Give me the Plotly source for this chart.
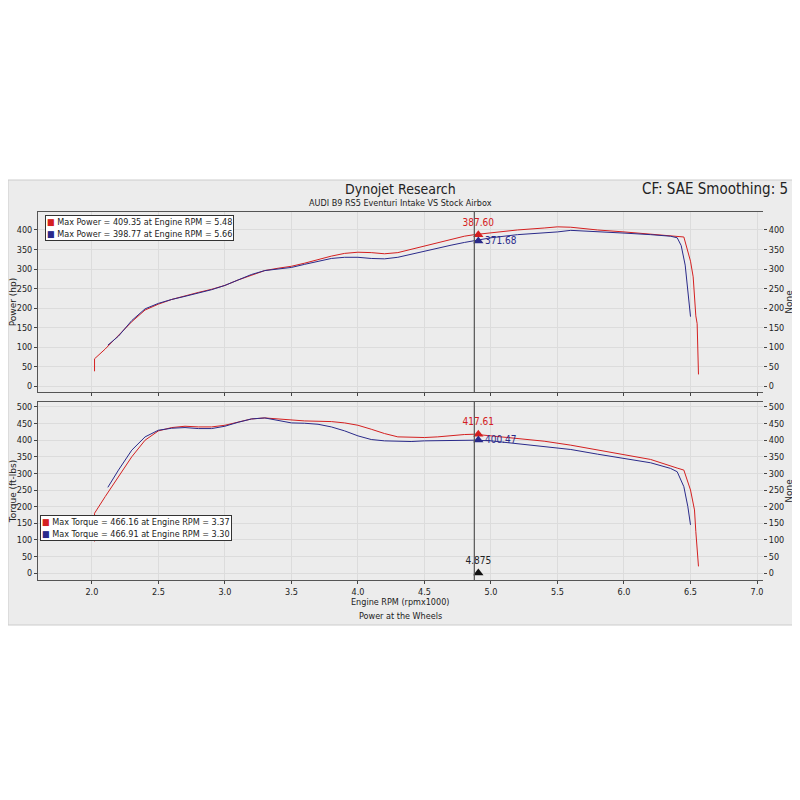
import plotly.graph_objects as go

rpm_pr = [2.02,2.02,2.1,2.2,2.3,2.4,2.5,2.6,2.7,2.8,2.9,3.0,3.1,3.2,3.3,3.4,3.5,3.6,3.7,3.8,3.9,4.0,4.1,4.2,4.3,4.4,4.5,4.6,4.7,4.8,4.875,5.0,5.2,5.4,5.5,5.6,5.8,6.0,6.2,6.4,6.45,6.5,6.52,6.54,6.55,6.56]
pow_r = [38,70,95,130,165,195,210,222,232,240,248,258,272,285,296,302,307,315,324,333,340,343,342,339,342,350,358,366,375,384,388,393,400,405,408,407,400,395,390,385,382,320,280,180,160,30]
rpm_pb = [2.12,2.2,2.3,2.4,2.5,2.6,2.7,2.8,2.9,3.0,3.1,3.2,3.3,3.4,3.5,3.6,3.7,3.8,3.9,4.0,4.1,4.2,4.3,4.4,4.5,4.6,4.7,4.8,4.875,5.0,5.2,5.4,5.5,5.6,5.8,6.0,6.2,6.35,6.4,6.43,6.46,6.48,6.5]
pow_b = [105,128,168,198,212,222,230,238,247,258,272,286,296,300,304,312,320,327,330,330,327,326,330,338,346,354,361,368,372,380,388,392,395,399,396,392,388,384,380,360,310,250,178]
rpm_tr = [2.02,2.02,2.1,2.2,2.3,2.4,2.5,2.6,2.7,2.8,2.9,3.0,3.1,3.2,3.3,3.4,3.5,3.6,3.7,3.8,3.9,4.0,4.1,4.2,4.3,4.4,4.5,4.6,4.7,4.8,4.875,5.0,5.2,5.4,5.6,5.8,6.0,6.2,6.4,6.45,6.5,6.53,6.54,6.56]
tq_r = [95,180,230,290,350,400,428,438,442,440,440,445,455,464,467,464,459,458,457,456,452,445,433,420,410,408,408,410,414,417,418,413,405,397,385,370,355,342,316,310,250,190,125,20]
rpm_tb = [2.12,2.2,2.3,2.4,2.5,2.6,2.7,2.8,2.9,3.0,3.1,3.2,3.3,3.4,3.5,3.6,3.7,3.8,3.9,4.0,4.1,4.2,4.3,4.4,4.5,4.6,4.7,4.8,4.875,5.0,5.2,5.4,5.6,5.8,6.0,6.2,6.35,6.4,6.45,6.48,6.5]
tq_b = [258,310,370,410,430,436,438,435,435,442,454,464,467,460,452,451,448,440,428,413,402,398,396,396,398,399,400,400,400,398,390,380,372,358,345,332,315,305,260,200,145]

cursor_rpm = 4.875
cur_pow = [387.60, 371.68]
cur_tq = [417.61, 400.47]
RED = "#d42020"; BLUE = "#2a2a8a"
NARROW = "DejaVu Sans Condensed, Liberation Sans Narrow, Arial Narrow"
W = 792  # page shows the figure offset by 8px

def PX(px): return (px - 8) / W
def PY(py): return 1 - (py - 8) / W

fig = go.Figure()
fig.add_trace(go.Scatter(x=rpm_pr, y=pow_r, mode="lines", line=dict(color=RED, width=1), xaxis="x", yaxis="y"))
fig.add_trace(go.Scatter(x=rpm_pb, y=pow_b, mode="lines", line=dict(color=BLUE, width=1), xaxis="x", yaxis="y"))
fig.add_trace(go.Scatter(x=rpm_tr, y=tq_r, mode="lines", line=dict(color=RED, width=1), xaxis="x2", yaxis="y2"))
fig.add_trace(go.Scatter(x=rpm_tb, y=tq_b, mode="lines", line=dict(color=BLUE, width=1), xaxis="x2", yaxis="y2"))
fig.add_trace(go.Scatter(x=[cursor_rpm], y=[0], mode="markers", marker=dict(opacity=0), xaxis="x", yaxis="y3", hoverinfo="skip"))
fig.add_trace(go.Scatter(x=[cursor_rpm], y=[0], mode="markers", marker=dict(opacity=0), xaxis="x2", yaxis="y4", hoverinfo="skip"))
fig.add_trace(go.Scatter(x=[cursor_rpm+0.03]*2, y=cur_pow, mode="markers+text",
    text=["%.2f" % v for v in cur_pow], textposition=["top center", "middle right"],
    textfont=dict(color=[RED, BLUE], size=10, family=NARROW),
    marker=dict(symbol="triangle-up", size=9, color=[RED, BLUE]), xaxis="x", yaxis="y"))
fig.add_trace(go.Scatter(x=[cursor_rpm+0.03]*2, y=cur_tq, mode="markers+text",
    text=["%.2f" % v for v in cur_tq], textposition=["top center", "middle right"],
    textfont=dict(color=[RED, BLUE], size=10, family=NARROW),
    marker=dict(symbol="triangle-up", size=9, color=[RED, BLUE]), xaxis="x2", yaxis="y2"))
fig.add_trace(go.Scatter(x=[cursor_rpm+0.03], y=[0], mode="markers+text", text=["4.875"], textposition="top center",
    textfont=dict(color="#222", size=10, family=NARROW), marker=dict(symbol="triangle-up", size=9, color="#111"), xaxis="x2", yaxis="y2"))

xd = [PX(38), PX(763)]
ax = dict(range=[1.595, 7.045], dtick=0.5, tickformat=".1f", showgrid=True, gridcolor="#dcdcdc",
          showline=True, linecolor="#555", mirror=True, ticks="outside", ticklen=3, tickfont=dict(size=9), domain=xd)
yax = dict(showgrid=True, gridcolor="#dcdcdc", showline=True, linecolor="#555", ticks="outside", ticklen=3,
           tickfont=dict(size=9), dtick=50, zeroline=False)
rax = dict(dtick=50, showgrid=False, ticks="outside", ticklen=3, tickfont=dict(size=9), zeroline=False,
           title=dict(text="None", font=dict(size=9, family="DejaVu Sans"), standoff=0))
fig.update_layout(
    width=W, height=W, showlegend=False, paper_bgcolor="white", plot_bgcolor="#f0f0f0",
    margin=dict(l=0, r=0, t=0, b=0, autoexpand=False), font=dict(family=NARROW, color="#222"),
    xaxis=dict(**ax, anchor="y", showticklabels=False),
    xaxis2=dict(**ax, anchor="y2"),
    yaxis=dict(**yax, range=[-15, 446], domain=[PY(392), PY(212)], title=dict(text="Power (hp)", font=dict(size=9, family="DejaVu Sans"), standoff=2)),
    yaxis2=dict(**yax, range=[-21, 515], domain=[PY(580), PY(402)], title=dict(text="Torque (ft-lbs)", font=dict(size=9, family="DejaVu Sans"), standoff=2)),
    yaxis3=dict(**rax, range=[-15, 446], overlaying="y", side="right", anchor="x"),
    yaxis4=dict(**rax, range=[-21, 515], overlaying="y2", side="right", anchor="x2"),
)
fig.add_shape(type="rect", xref="paper", yref="paper", x0=0, x1=1, y0=PY(625), y1=PY(180),
              fillcolor="#ececec", line=dict(color="#cccccc", width=1), layer="below")
for yref in ["y", "y2"]:
    fig.add_shape(type="line", xref="x" if yref == "y" else "x2", yref=yref + " domain", x0=cursor_rpm, x1=cursor_rpm, y0=0, y1=1,
                  line=dict(color="#555", width=1.2))

def note(text, x, y, size, xanchor="center"):
    fig.add_annotation(text=text, xref="paper", yref="paper", x=x, y=y, xanchor=xanchor, yanchor="middle",
                       showarrow=False, font=dict(size=size))

note("Dynojet Research", PX(400), PY(189), 14)
note("AUDI B9 RS5 Eventuri Intake VS Stock Airbox", PX(400), PY(203), 9)
note("CF: SAE Smoothing: 5", PX(790), PY(189), 15, "right")
note("Engine RPM (rpmx1000)", PX(400), PY(602), 9)
note("Power at the Wheels", PX(400), PY(616), 9)

def legend(x, y, lines):
    txt = "<br>".join('<span style="color:%s">■</span> %s' % (c, t) for c, t in lines)
    fig.add_annotation(text=txt, xref="paper", yref="paper", x=x, y=y, xanchor="left", yanchor="top", align="left",
                       showarrow=False, bgcolor="white", bordercolor="#333", borderwidth=1, font=dict(size=9))

legend(PX(45), PY(215), [(RED, "Max Power = 409.35 at Engine RPM = 5.48"), (BLUE, "Max Power = 398.77 at Engine RPM = 5.66")])
legend(PX(40), PY(515), [(RED, "Max Torque = 466.16 at Engine RPM = 3.37"), (BLUE, "Max Torque = 466.91 at Engine RPM = 3.30")])

fig.write_html("out.html")
